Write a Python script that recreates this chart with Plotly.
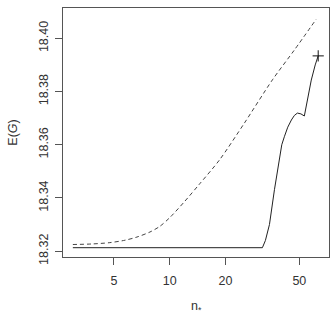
import plotly.graph_objects as go

# Dashed curve
dash_n = [3.0, 3.81, 4.75, 5.73, 6.65, 7.82, 8.83, 10.0, 12.0, 14.5, 18.6, 25.3, 35.8, 47.0, 61.7]
dash_e = [18.3225, 18.3227, 18.3232, 18.3241, 18.3253, 18.3272, 18.3293, 18.3326, 18.3386,
          18.3453, 18.3544, 18.3682, 18.3844, 18.3956, 18.4072]

# Solid curve
solid_n = [3.0, 31.6, 32.8, 34.5, 36.7, 39.0, 40.2, 41.5, 43.3, 45.3, 47.0, 48.8, 51.0, 53.2, 55.2,
           58.0, 60.9, 63.2]
solid_e = [18.3213, 18.3213, 18.3240, 18.3300, 18.3431, 18.3555, 18.3600, 18.3630, 18.3666,
           18.3693, 18.3710, 18.3719, 18.3716, 18.3708, 18.3768, 18.3843, 18.3900, 18.3934]

end_n = [63.2]
end_e = [18.3934]

x_ticks = [5, 10, 20, 50]
y_ticks = [18.32, 18.34, 18.36, 18.38, 18.40]

fig = go.Figure()
fig.add_trace(go.Scatter(x=dash_n, y=dash_e, mode="lines", line=dict(color="#444", width=1, dash="4px,3px", shape="spline", smoothing=0.8)))
fig.add_trace(go.Scatter(x=solid_n, y=solid_e, mode="lines", line=dict(color="#222", width=1, shape="linear")))
fig.add_trace(go.Scatter(x=end_n, y=end_e, mode="markers", marker=dict(symbol="cross-thin", size=8, line=dict(color="#111", width=1))))

font = dict(family="Liberation Sans, Arial", size=12.5, color="#333")
axis_common = dict(showline=True, mirror=True, linecolor="#555", linewidth=1, ticks="outside",
                   ticklen=7, tickcolor="#555", showgrid=False, zeroline=False, tickfont=font,
                   automargin=False)

fig.update_layout(
    width=334, height=316, margin=dict(l=63, r=5, t=8, b=59),
    plot_bgcolor="white", paper_bgcolor="white", showlegend=False,
    xaxis=dict(type="log", range=[0.424, 1.859], tickvals=x_ticks, ticktext=[str(v) for v in x_ticks],
               ticklabelstandoff=5, **axis_common),
    yaxis=dict(range=[18.3178, 18.4114], tickvals=y_ticks, ticktext=["%.2f" % v for v in y_ticks], tickangle=-90,
               ticklabelstandoff=2,
               title=dict(text="E(<i>G</i>)", font=font, standoff=16),
               **axis_common),
    annotations=[dict(text="n<sub>*</sub>", xref="paper", yref="paper", x=0.5, y=-0.2,
                      xanchor="center", yanchor="middle", showarrow=False, font=font)],
)
fig.write_html("out.html")
